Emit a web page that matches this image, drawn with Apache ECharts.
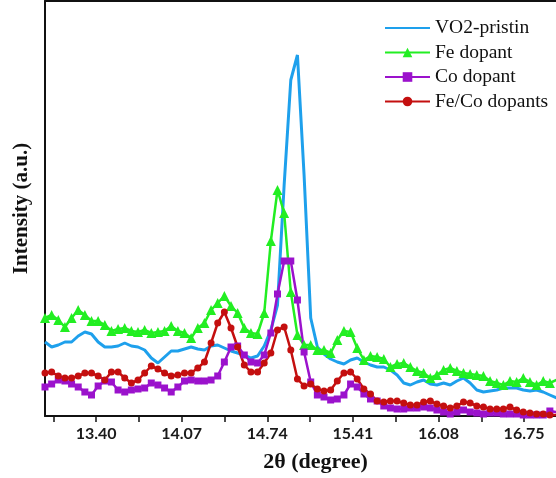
<!DOCTYPE html>
<html>
<head>
<meta charset="utf-8">
<script src="https://cdn.jsdelivr.net/npm/echarts@6/dist/echarts.min.js"></script>
<style>
html,body{margin:0;padding:0;background:#fff;}
#chart{width:556px;height:478px;}
</style>
</head>
<body>
<div id="chart"></div>
<script>
// 2θ (degree) sample positions
var theta = [13.000,13.052,13.104,13.156,13.208,13.260,13.312,13.364,13.416,13.468,
  13.520,13.572,13.624,13.676,13.728,13.780,13.832,13.884,13.936,13.988,
  14.040,14.092,14.144,14.196,14.248,14.300,14.352,14.404,14.456,14.508,
  14.560,14.612,14.664,14.716,14.768,14.820,14.872,14.924,14.976,15.028,
  15.080,15.132,15.184,15.236,15.288,15.340,15.392,15.444,15.496,15.548,
  15.600,15.652,15.704,15.756,15.808,15.860,15.912,15.964,16.016,16.068,
  16.120,16.172,16.224,16.276,16.328,16.380,16.432,16.484,16.536,16.588,
  16.640,16.692,16.744,16.796,16.848,16.900,16.952,17.004];

var vo2Pristin = [74,69,71,74,74,80,84,82,74,69,
  69,70,73,70,69,66,58,53,59,65,
  65,67,69,67,66,70,71,68,65,63,
  61,58,60,70,86,111,231,336,361,241,
  98,69,62,57,54,52,56,58,54,51,
  49,49,46,41,33,31,34,36,32,31,
  33,31,35,38,33,26,24,25,26,28,
  28,28,26,25,26,24,21,18];

var feDopant = [98,101,96,89,98,106,101,95,95,91,
  85,87,88,85,84,86,83,84,85,90,
  85,83,78,88,93,106,113,120,110,103,
  88,83,82,103,175,226,203,124,81,71,
  71,66,66,63,76,85,84,68,56,60,
  59,57,49,52,53,49,45,43,38,41,
  46,48,45,43,42,41,40,35,33,31,
  35,34,38,34,31,35,33,36];

var coDopant = [29,32,36,35,32,29,24,21,30,35,
  34,26,24,26,27,28,33,31,28,24,
  29,35,36,35,35,36,40,54,69,70,
  61,54,53,61,83,122,155,155,116,64,
  34,21,19,16,17,21,32,29,22,17,
  15,10,8,7,7,8,8,9,8,6,
  4,2,4,6,4,3,2,3,3,2,
  2,2,1,1,1,1,5,4];

var feCoDopants = [43,44,40,38,38,40,43,43,40,36,
  44,44,38,33,36,43,50,47,43,40,
  41,43,43,48,54,73,93,104,88,69,
  51,44,44,53,63,86,89,66,37,30,
  32,27,25,26,35,43,44,37,27,22,
  15,14,15,15,13,11,11,14,15,12,
  10,8,10,14,13,10,9,7,7,7,
  9,6,4,3,2,2,1,1];

var tickLabels = [13.40,14.07,14.74,15.41,16.08,16.75];
var tickMarks = [13.065,13.40,13.735,14.07,14.405,14.74,15.075,15.41,15.745,16.08,16.415,16.75];

var seriesNames = ['VO2-pristin','Fe dopant','Co dopant','Fe/Co dopants'];
var seriesData = [vo2Pristin, feDopant, coDopant, feCoDopants];
var colors = ['#1EA0EC','#22EE22','#9B12CC','#C40F0F'];
var symbols = ['none','triangle','rect','circle'];
var symbolSizes = [0,10,7,7];
var lineWidths = [3,2.5,2.5,2.5];

function pairs(ys){
  var out = [];
  for (var i = 0; i < ys.length; i++) out.push([theta[i], ys[i]]);
  return out;
}

var series = seriesNames.map(function(name, k){
  return {
    name: name,
    type: 'line',
    data: pairs(seriesData[k]),
    symbol: symbols[k],
    showSymbol: symbols[k] !== 'none',
    symbolSize: symbolSizes[k],
    lineStyle: {color: colors[k], width: lineWidths[k]},
    itemStyle: {color: colors[k], borderWidth: 0},
    color: colors[k],
    smooth: false,
    clip: true,
    animation: false,
    emphasis: {disabled: true}
  };
});

var legendData = seriesNames.map(function(name, k){
  var item = {name: name};
  if (symbols[k] === 'none') item.itemStyle = {opacity: 0};
  return item;
});

var chart = echarts.init(document.getElementById('chart'), null, {renderer: 'canvas'});
chart.setOption({
  animation: false,
  backgroundColor: '#fff',
  grid: {left: 45, right: 0, top: 1, bottom: 62, containLabel: false},
  legend: {
    orient: 'vertical',
    left: 384,
    top: 18,
    padding: 0,
    itemWidth: 45,
    itemHeight: 12,
    itemGap: 4.5,
    textStyle: {fontFamily: 'Liberation Serif', fontSize: 19.5, color: '#111', lineHeight: 20, padding: [0,0,0,0]},
    data: legendData
  },
  xAxis: [{
    type: 'value',
    min: 13.0,
    max: 17.0,
    position: 'bottom',
    name: '2θ (degree)',
    nameLocation: 'middle',
    nameGap: 35,
    nameTextStyle: {fontFamily: 'Liberation Serif', fontWeight: 'bold', fontSize: 22, color: '#111', padding: [0,0,0,30]},
    axisLine: {show: true, onZero: false, lineStyle: {color: '#111', width: 2}},
    axisTick: {show: true, inside: false, length: 6, customValues: tickMarks, lineStyle: {color: '#111', width: 1.5}},
    axisLabel: {
      show: true,
      customValues: tickLabels,
      margin: 10,
      fontFamily: 'Lato',
      fontWeight: 'bold',
      fontSize: 16,
      color: '#1a1a1a',
      formatter: function(v){ return Number(v).toFixed(2); }
    },
    splitLine: {show: false}
  }, {
    type: 'value',
    min: 13.0,
    max: 17.0,
    position: 'top',
    axisLine: {show: true, onZero: false, lineStyle: {color: '#111', width: 2}},
    axisTick: {show: false},
    axisLabel: {show: false},
    splitLine: {show: false}
  }],
  yAxis: {
    type: 'value',
    min: 0,
    max: 415,
    name: 'Intensity (a.u.)',
    nameLocation: 'middle',
    nameGap: 13,
    nameTextStyle: {fontFamily: 'Liberation Serif', fontWeight: 'bold', fontSize: 21, color: '#111'},
    axisLine: {show: true, onZero: false, lineStyle: {color: '#111', width: 2}},
    axisTick: {show: false},
    axisLabel: {show: false},
    splitLine: {show: false}
  },
  series: series
});
</script>
</body>
</html>
